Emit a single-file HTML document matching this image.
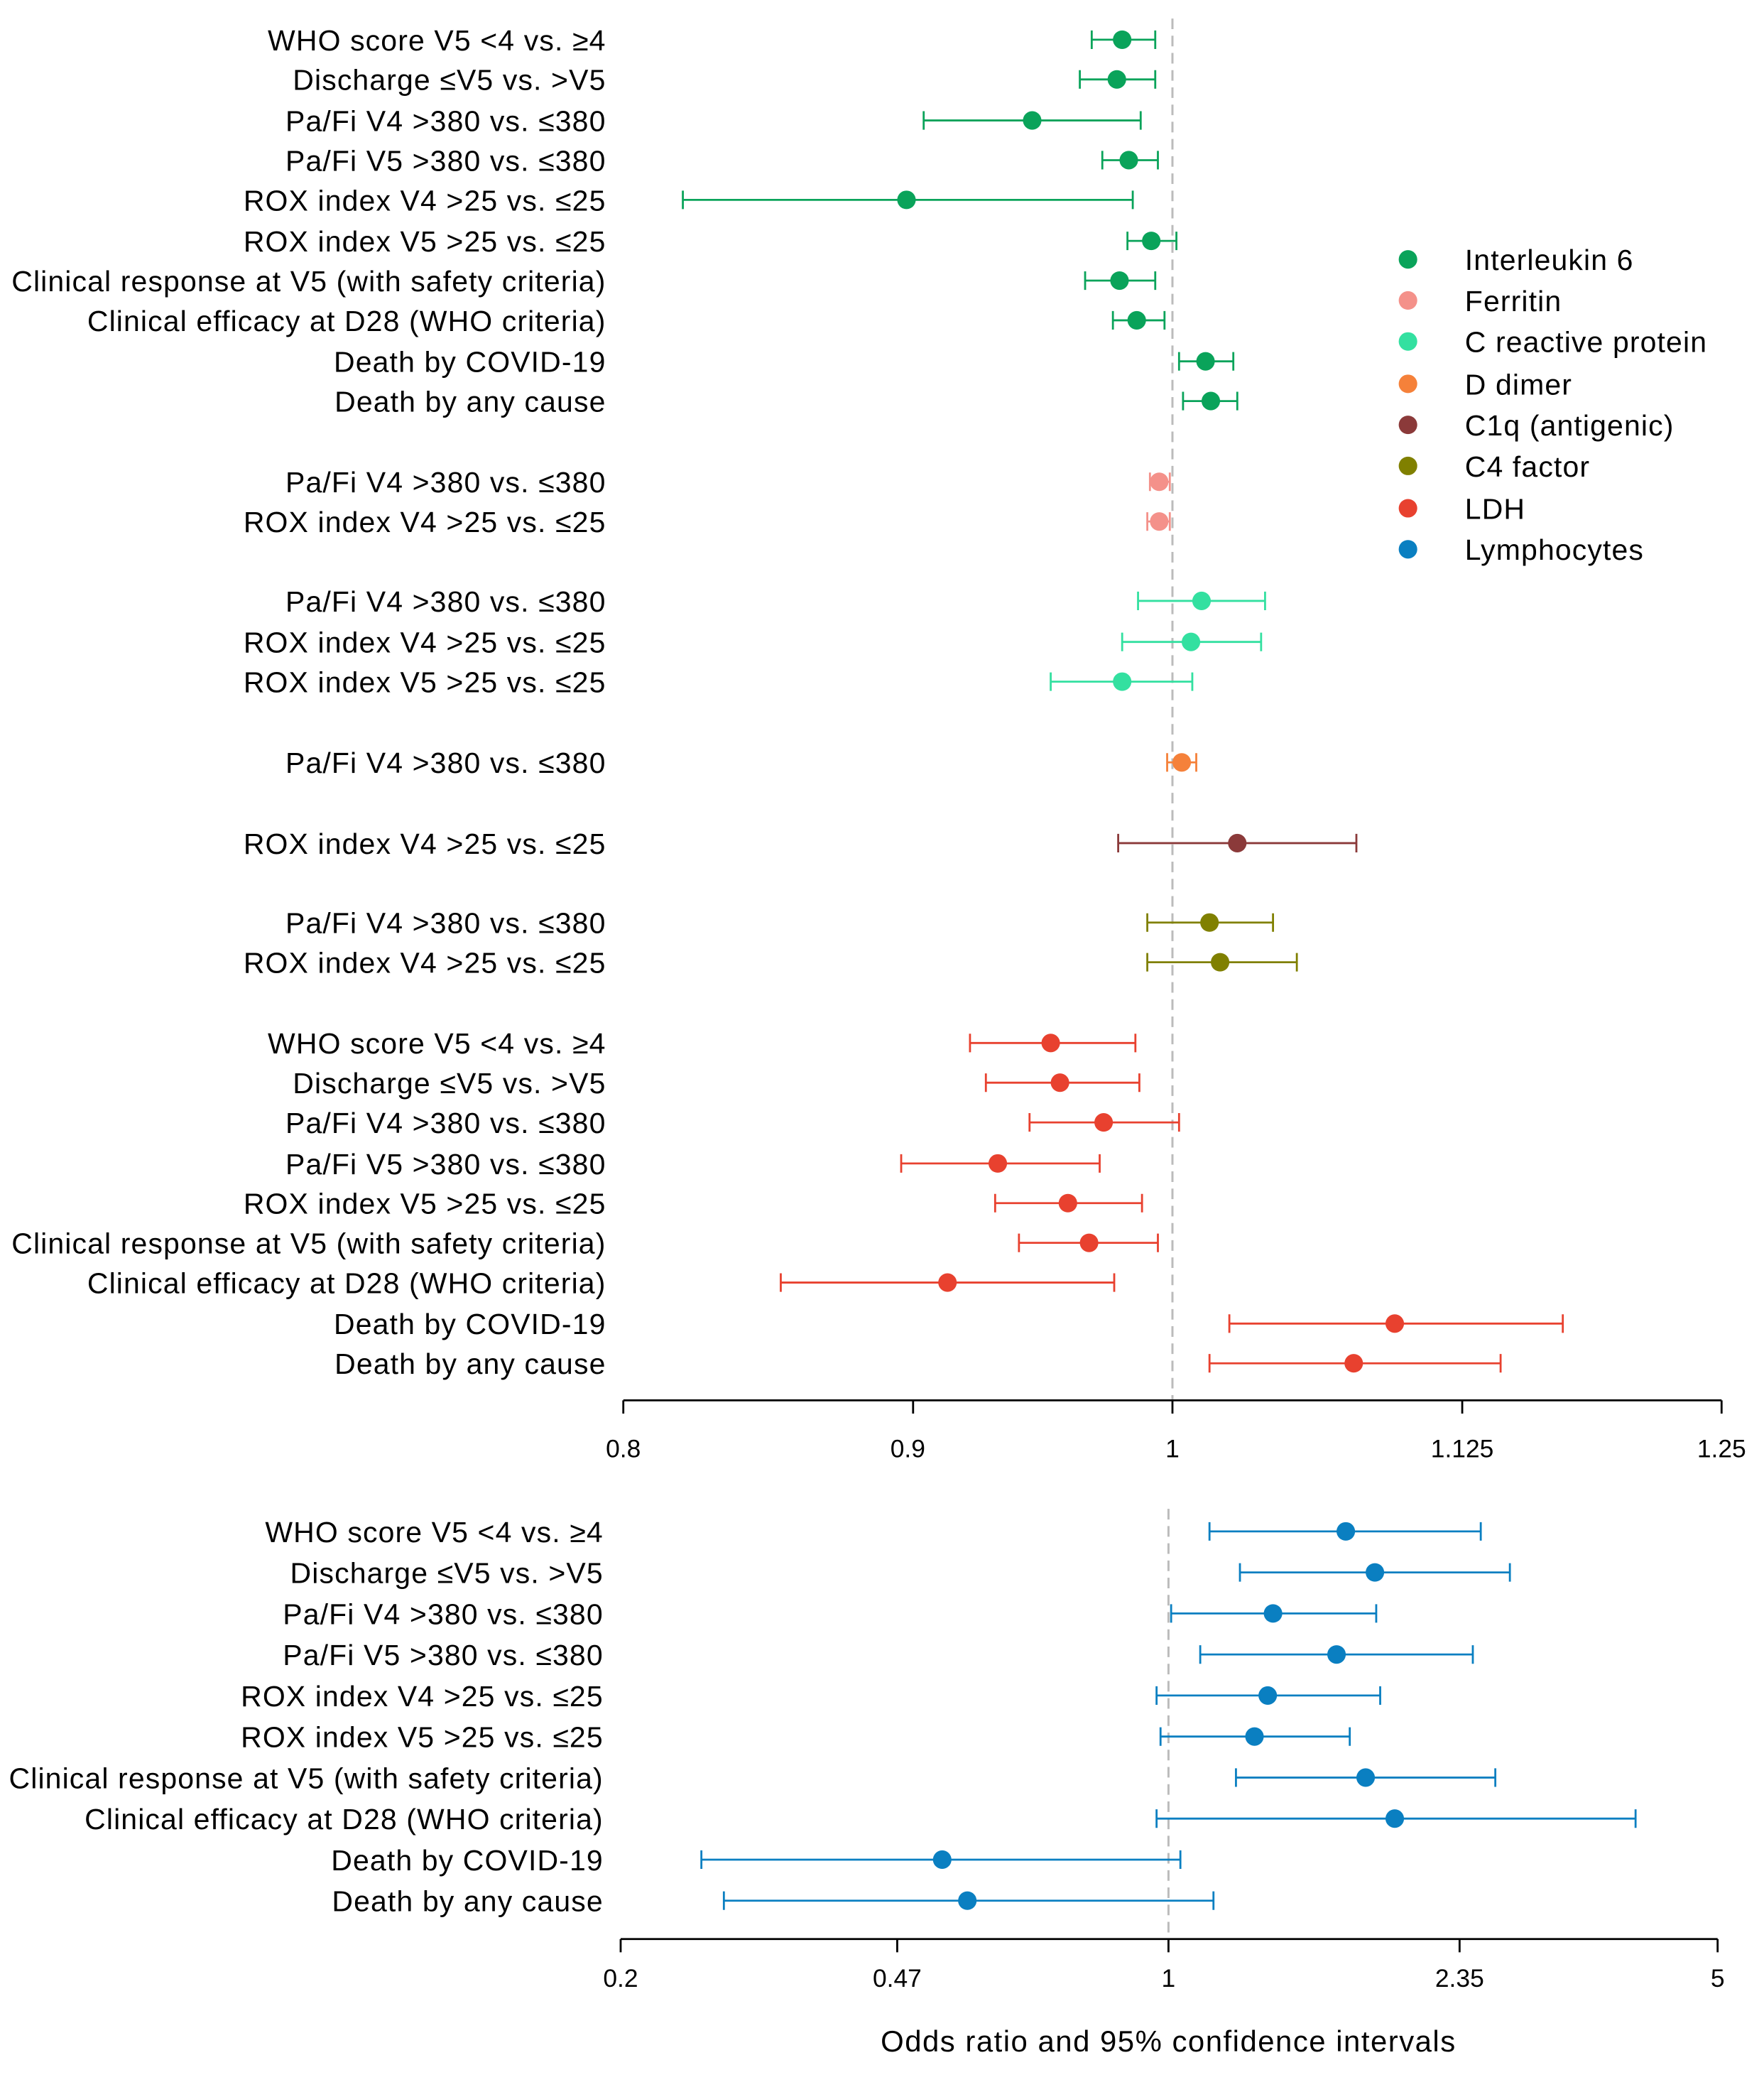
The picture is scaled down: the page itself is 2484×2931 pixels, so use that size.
<!DOCTYPE html>
<html><head><meta charset="utf-8"><style>html,body{margin:0;padding:0;background:#fff}svg{display:block}</style></head>
<body>
<svg width="2484" height="2931" viewBox="0 0 1333 1573" xmlns="http://www.w3.org/2000/svg" font-family="Liberation Sans, sans-serif">
<rect width="1333" height="1573" fill="#fff"/>
<line x1="886" y1="14" x2="886" y2="1058" stroke="#bbb" stroke-width="1.6" stroke-dasharray="8,5"/>
<line x1="883" y1="1140" x2="883" y2="1465" stroke="#bbb" stroke-width="1.6" stroke-dasharray="8,5"/>
<g font-size="22" letter-spacing="0.6" text-anchor="end" fill="#000">
<text x="458" y="38">WHO score V5 &lt;4 vs. ≥4</text>
<text x="458" y="68">Discharge ≤V5 vs. &gt;V5</text>
<text x="458" y="99">Pa/Fi V4 &gt;380 vs. ≤380</text>
<text x="458" y="129">Pa/Fi V5 &gt;380 vs. ≤380</text>
<text x="458" y="159">ROX index V4 &gt;25 vs. ≤25</text>
<text x="458" y="190">ROX index V5 &gt;25 vs. ≤25</text>
<text x="458" y="220">Clinical response at V5 (with safety criteria)</text>
<text x="458" y="250">Clinical efficacy at D28 (WHO criteria)</text>
<text x="458" y="281">Death by COVID-19</text>
<text x="458" y="311">Death by any cause</text>
<text x="458" y="372">Pa/Fi V4 &gt;380 vs. ≤380</text>
<text x="458" y="402">ROX index V4 &gt;25 vs. ≤25</text>
<text x="458" y="462">Pa/Fi V4 &gt;380 vs. ≤380</text>
<text x="458" y="493">ROX index V4 &gt;25 vs. ≤25</text>
<text x="458" y="523">ROX index V5 &gt;25 vs. ≤25</text>
<text x="458" y="584">Pa/Fi V4 &gt;380 vs. ≤380</text>
<text x="458" y="645">ROX index V4 &gt;25 vs. ≤25</text>
<text x="458" y="705">Pa/Fi V4 &gt;380 vs. ≤380</text>
<text x="458" y="735">ROX index V4 &gt;25 vs. ≤25</text>
<text x="458" y="796">WHO score V5 &lt;4 vs. ≥4</text>
<text x="458" y="826">Discharge ≤V5 vs. &gt;V5</text>
<text x="458" y="856">Pa/Fi V4 &gt;380 vs. ≤380</text>
<text x="458" y="887">Pa/Fi V5 &gt;380 vs. ≤380</text>
<text x="458" y="917">ROX index V5 &gt;25 vs. ≤25</text>
<text x="458" y="947">Clinical response at V5 (with safety criteria)</text>
<text x="458" y="977">Clinical efficacy at D28 (WHO criteria)</text>
<text x="458" y="1008">Death by COVID-19</text>
<text x="458" y="1038">Death by any cause</text>
<text x="456" y="1165">WHO score V5 &lt;4 vs. ≥4</text>
<text x="456" y="1196">Discharge ≤V5 vs. &gt;V5</text>
<text x="456" y="1227">Pa/Fi V4 &gt;380 vs. ≤380</text>
<text x="456" y="1258">Pa/Fi V5 &gt;380 vs. ≤380</text>
<text x="456" y="1289">ROX index V4 &gt;25 vs. ≤25</text>
<text x="456" y="1320">ROX index V5 &gt;25 vs. ≤25</text>
<text x="456" y="1351">Clinical response at V5 (with safety criteria)</text>
<text x="456" y="1382">Clinical efficacy at D28 (WHO criteria)</text>
<text x="456" y="1413">Death by COVID-19</text>
<text x="456" y="1444">Death by any cause</text>
</g>
<g stroke-width="1.5" fill="none">
<path stroke="#0aa35a" d="M825 30H873M825 23V37M873 23V37 M816 60H873M816 53V67M873 53V67 M698 91H862M698 84V98M862 84V98 M833 121H875M833 114V128M875 114V128 M516 151H856M516 144V158M856 144V158 M852 182H889M852 175V189M889 175V189 M820 212H873M820 205V219M873 205V219 M841 242H880M841 235V249M880 235V249 M891 273H932M891 266V280M932 266V280 M894 303H935M894 296V310M935 296V310"/>
<path stroke="#f4918a" d="M869 364H884M869 357V371M884 357V371 M867 394H884M867 387V401M884 387V401"/>
<path stroke="#33e0a0" d="M860 454H956M860 447V461M956 447V461 M848 485H953M848 478V492M953 478V492 M794 515H901M794 508V522M901 508V522"/>
<path stroke="#f5813a" d="M882 576H904M882 569V583M904 569V583"/>
<path stroke="#8b3a3a" d="M845 637H1025M845 630V644M1025 630V644"/>
<path stroke="#808000" d="M867 697H962M867 690V704M962 690V704 M867 727H980M867 720V734M980 720V734"/>
<path stroke="#e8412f" d="M733 788H858M733 781V795M858 781V795 M745 818H861M745 811V825M861 811V825 M778 848H891M778 841V855M891 841V855 M681 879H831M681 872V886M831 872V886 M752 909H863M752 902V916M863 902V916 M770 939H875M770 932V946M875 932V946 M590 969H842M590 962V976M842 962V976 M929 1000H1181M929 993V1007M1181 993V1007 M914 1030H1134M914 1023V1037M1134 1023V1037"/>
<path stroke="#0a7fc1" d="M914 1157H1119M914 1150V1164M1119 1150V1164 M937 1188H1141M937 1181V1195M1141 1181V1195 M885 1219H1040M885 1212V1226M1040 1212V1226 M907 1250H1113M907 1243V1257M1113 1243V1257 M874 1281H1043M874 1274V1288M1043 1274V1288 M877 1312H1020M877 1305V1319M1020 1305V1319 M934 1343H1130M934 1336V1350M1130 1336V1350 M874 1374H1236M874 1367V1381M1236 1367V1381 M530 1405H892M530 1398V1412M892 1398V1412 M547 1436H917M547 1429V1443M917 1429V1443"/>
</g>
<g fill="#0aa35a"><circle cx="848" cy="30" r="7"/><circle cx="844" cy="60" r="7"/><circle cx="780" cy="91" r="7"/><circle cx="853" cy="121" r="7"/><circle cx="685" cy="151" r="7"/><circle cx="870" cy="182" r="7"/><circle cx="846" cy="212" r="7"/><circle cx="859" cy="242" r="7"/><circle cx="911" cy="273" r="7"/><circle cx="915" cy="303" r="7"/></g>
<g fill="#f4918a"><circle cx="876" cy="364" r="7"/><circle cx="876" cy="394" r="7"/></g>
<g fill="#33e0a0"><circle cx="908" cy="454" r="7"/><circle cx="900" cy="485" r="7"/><circle cx="848" cy="515" r="7"/></g>
<circle cx="893" cy="576" r="7" fill="#f5813a"/>
<circle cx="935" cy="637" r="7" fill="#8b3a3a"/>
<g fill="#808000"><circle cx="914" cy="697" r="7"/><circle cx="922" cy="727" r="7"/></g>
<g fill="#e8412f"><circle cx="794" cy="788" r="7"/><circle cx="801" cy="818" r="7"/><circle cx="834" cy="848" r="7"/><circle cx="754" cy="879" r="7"/><circle cx="807" cy="909" r="7"/><circle cx="823" cy="939" r="7"/><circle cx="716" cy="969" r="7"/><circle cx="1054" cy="1000" r="7"/><circle cx="1023" cy="1030" r="7"/></g>
<g fill="#0a7fc1"><circle cx="1017" cy="1157" r="7"/><circle cx="1039" cy="1188" r="7"/><circle cx="962" cy="1219" r="7"/><circle cx="1010" cy="1250" r="7"/><circle cx="958" cy="1281" r="7"/><circle cx="948" cy="1312" r="7"/><circle cx="1032" cy="1343" r="7"/><circle cx="1054" cy="1374" r="7"/><circle cx="712" cy="1405" r="7"/><circle cx="731" cy="1436" r="7"/></g>
<g stroke="#000" stroke-width="1.5">
<line x1="471" y1="1058" x2="1301" y2="1058"/>
<line x1="471" y1="1058" x2="471" y2="1068"/><line x1="690" y1="1058" x2="690" y2="1068"/><line x1="886" y1="1058" x2="886" y2="1068"/><line x1="1105" y1="1058" x2="1105" y2="1068"/><line x1="1301" y1="1058" x2="1301" y2="1068"/>
<line x1="469" y1="1465" x2="1298" y2="1465"/>
<line x1="469" y1="1465" x2="469" y2="1475"/><line x1="678" y1="1465" x2="678" y2="1475"/><line x1="883" y1="1465" x2="883" y2="1475"/><line x1="1103" y1="1465" x2="1103" y2="1475"/><line x1="1298" y1="1465" x2="1298" y2="1475"/>
</g>
<g font-size="19" text-anchor="middle" fill="#000">
<text x="471" y="1101">0.8</text><text x="686" y="1101">0.9</text><text x="886" y="1101">1</text><text x="1105" y="1101">1.125</text><text x="1301" y="1101">1.25</text>
<text x="469" y="1501">0.2</text><text x="678" y="1501">0.47</text><text x="883" y="1501">1</text><text x="1103" y="1501">2.35</text><text x="1298" y="1501">5</text>
</g>
<text x="883" y="1550" font-size="22.5" letter-spacing="0.8" text-anchor="middle">Odds ratio and 95% confidence intervals</text>
<g font-size="22" letter-spacing="0.6">
<circle cx="1064" cy="196" r="7" fill="#0aa35a"/><text x="1107" y="204">Interleukin 6</text>
<circle cx="1064" cy="227" r="7" fill="#f4918a"/><text x="1107" y="235">Ferritin</text>
<circle cx="1064" cy="258" r="7" fill="#33e0a0"/><text x="1107" y="266">C reactive protein</text>
<circle cx="1064" cy="290" r="7" fill="#f5813a"/><text x="1107" y="298">D dimer</text>
<circle cx="1064" cy="321" r="7" fill="#8b3a3a"/><text x="1107" y="329">C1q (antigenic)</text>
<circle cx="1064" cy="352" r="7" fill="#808000"/><text x="1107" y="360">C4 factor</text>
<circle cx="1064" cy="384" r="7" fill="#e8412f"/><text x="1107" y="392">LDH</text>
<circle cx="1064" cy="415" r="7" fill="#0a7fc1"/><text x="1107" y="423">Lymphocytes</text>
</g>
</svg>
</body></html>
